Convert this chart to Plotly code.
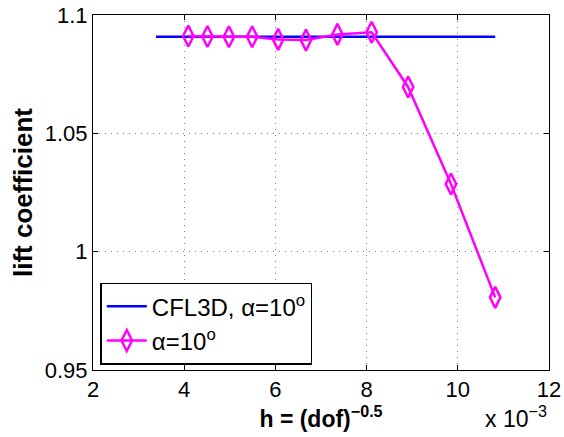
import plotly.graph_objects as go

cfl3d_x = [3.38, 10.82]
cfl3d_y = [1.0908, 1.0908]

h_x = [4.09, 4.51, 4.98, 5.49, 6.06, 6.67, 7.36, 8.11, 8.91, 9.85, 10.82]
cl_y = [1.0911, 1.0909, 1.0908, 1.0908, 1.0897, 1.0894, 1.0918, 1.0927, 1.0696, 1.0286, 0.9807]

x_ticks = [2, 4, 6, 8, 10, 12]
y_ticks = [0.95, 1.0, 1.05, 1.1]
y_ticklabels = ["0.95", "1", "1.05", "1.1"]

FONT = "Liberation Sans, Arial, sans-serif"

fig = go.Figure()
fig.add_trace(go.Scatter(x=cfl3d_x, y=cfl3d_y, mode="lines",
                         line=dict(color="#0000ff", width=2.5),
                         name="CFL3D, α=10<sup>o</sup>"))
fig.add_trace(go.Scatter(x=h_x, y=cl_y, mode="lines+markers",
                         line=dict(color="#ff00ff", width=2.5),
                         marker=dict(symbol="diamond-tall-open", size=15, color="#ff00ff",
                                     line=dict(width=2.5, color="#ff00ff")),
                         name="α=10<sup>o</sup>"))

axis_common = dict(showline=True, linecolor="black", linewidth=1, mirror="ticks",
                   ticks="inside", ticklen=5, tickcolor="black", automargin=False,
                   showgrid=True, gridcolor="#808080", griddash="1px,5px", gridwidth=1,
                   zeroline=False, tickfont=dict(size=22, color="black", family=FONT))

fig.update_layout(
    width=564, height=437,
    margin=dict(l=93, r=15, t=15, b=67),
    paper_bgcolor="white", plot_bgcolor="white",
    font=dict(family=FONT, color="black"),
    xaxis=dict(range=[2, 12], tickvals=x_ticks, **axis_common,
               title=dict(text="<b>h = (dof)<sup>−0.5</sup></b>", font=dict(size=23), standoff=2)),
    yaxis=dict(range=[0.95, 1.1], tickvals=y_ticks, ticktext=y_ticklabels, **axis_common,
               title=dict(text="<b>lift coefficient</b>", font=dict(size=26), standoff=4)),
    legend=dict(x=0.016, y=0.015, xanchor="left", yanchor="bottom",
                bordercolor="black", borderwidth=1.5, bgcolor="white",
                font=dict(size=24, color="black"), itemwidth=40, tracegroupgap=0),
    showlegend=True,
)
fig.add_annotation(text="x 10<sup>−3</sup>", xref="paper", yref="paper", x=1.0, y=-0.085,
                   xanchor="right", yanchor="top", showarrow=False,
                   font=dict(size=23, color="black", family=FONT))

fig.write_html("out.html", config={"displayModeBar": False},
               post_script="document.body.style.margin='0';")
